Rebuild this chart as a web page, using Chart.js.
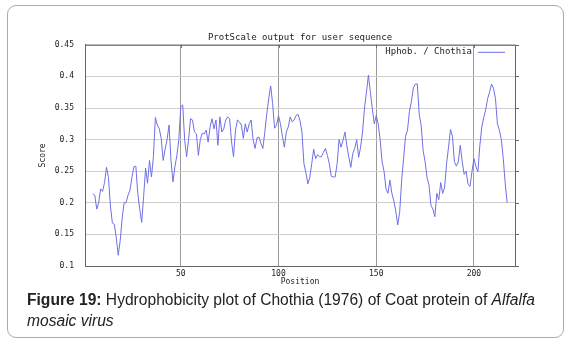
<!DOCTYPE html>
<html>
<head>
<title>ProtScale output for user sequence</title>
<script src="https://cdn.jsdelivr.net/npm/chart.js"></script>
<style>
  body { margin: 0; background: #fff; }
  #frame { position: absolute; left: 7px; top: 5px; width: 555px; height: 331px;
           border: 1px solid #aaa; border-radius: 9px; }
  #plot { position: absolute; left: 0; top: 0; }
  #caption { position: absolute; left: 27px; top: 289px; width: 535px;
             font-family: "Liberation Sans", Arial, sans-serif; font-size: 15.6px;
             line-height: 21px; color: #222; }
</style>
</head>
<body>
<div id="frame"></div>
<canvas id="plot" width="570" height="290"></canvas>
<div id="caption"><b>Figure 19:</b> Hydrophobicity plot of Chothia (1976) of Coat protein of <i>Alfalfa</i><br><i>mosaic virus</i></div>

<script>
// window scores, first window centred on residue 5
const startPos = 5;
const scores = [
  0.214, 0.212, 0.190, 0.200, 0.222, 0.218, 0.232, 0.256, 0.240, 0.195,
  0.168, 0.166, 0.145, 0.117, 0.140, 0.175, 0.200, 0.200, 0.212, 0.220,
  0.240, 0.257, 0.258, 0.215, 0.190, 0.169, 0.210, 0.255, 0.231, 0.267,
  0.241, 0.273, 0.335, 0.323, 0.317, 0.302, 0.267, 0.285, 0.300, 0.323,
  0.267, 0.233, 0.257, 0.275, 0.300, 0.352, 0.355, 0.299, 0.273, 0.300,
  0.333, 0.331, 0.312, 0.309, 0.275, 0.300, 0.310, 0.309, 0.315, 0.296,
  0.320, 0.333, 0.317, 0.331, 0.291, 0.336, 0.312, 0.317, 0.331, 0.336,
  0.333, 0.296, 0.273, 0.315, 0.331, 0.328, 0.323, 0.302, 0.325, 0.312,
  0.325, 0.331, 0.300, 0.286, 0.303, 0.304, 0.294, 0.286, 0.312, 0.341,
  0.365, 0.385, 0.357, 0.318, 0.323, 0.338, 0.325, 0.305, 0.288, 0.312,
  0.320, 0.336, 0.328, 0.331, 0.338, 0.340, 0.330, 0.312, 0.262, 0.248,
  0.230, 0.240, 0.262, 0.285, 0.270, 0.276, 0.273, 0.273, 0.280, 0.286,
  0.275, 0.262, 0.242, 0.241, 0.241, 0.262, 0.300, 0.288, 0.299, 0.312,
  0.290, 0.272, 0.256, 0.278, 0.286, 0.300, 0.272, 0.288, 0.312, 0.350,
  0.375, 0.402, 0.375, 0.349, 0.325, 0.338, 0.325, 0.300, 0.265, 0.250,
  0.222, 0.215, 0.236, 0.215, 0.203, 0.187, 0.165, 0.185, 0.235, 0.270,
  0.305, 0.315, 0.345, 0.360, 0.382, 0.388, 0.388, 0.340, 0.322, 0.283,
  0.265, 0.240, 0.228, 0.196, 0.190, 0.178, 0.215, 0.205, 0.232, 0.215,
  0.225, 0.262, 0.288, 0.316, 0.305, 0.265, 0.258, 0.265, 0.291, 0.265,
  0.245, 0.250, 0.229, 0.226, 0.250, 0.270, 0.257, 0.249, 0.290, 0.320,
  0.335, 0.347, 0.365, 0.375, 0.388, 0.381, 0.365, 0.325, 0.315, 0.300,
  0.270, 0.230, 0.200
];
const xTicks = [50, 100, 150, 200];
const yTicks = [0.1, 0.15, 0.2, 0.25, 0.3, 0.35, 0.4, 0.45];
const yTickLabels = ['0.1', '0.15', '0.2', '0.25', '0.3', '0.35', '0.4', '0.45'];
const seriesName = 'Hphob. / Chothia';

const mono = 'DejaVu Sans Mono';
const lineColor = '#6f6fe6';

// box round the plot, legend inside top right, little ticks on right and top
const frameBox = {
  id: 'frameBox',
  afterDraw(chart) {
    const {ctx, chartArea: a} = chart;
    const x = chart.scales.x, y = chart.scales.y;
    ctx.save();
    ctx.strokeStyle = '#666';
    ctx.lineWidth = 1;
    ctx.strokeRect(a.left + 0.5, a.top + 0.5, a.right - a.left, a.bottom - a.top);
    ctx.beginPath();
    yTicks.forEach(v => {
      const py = Math.round(y.getPixelForValue(v)) + 0.5;
      ctx.moveTo(a.right, py);
      ctx.lineTo(a.right + 4, py);
    });
    xTicks.forEach(v => {
      const px = Math.round(x.getPixelForValue(v)) + 0.5;
      ctx.moveTo(px, a.top);
      ctx.lineTo(px, a.top + 3);
    });
    ctx.stroke();
    ctx.font = '9px ' + mono;
    ctx.fillStyle = '#222';
    ctx.textBaseline = 'middle';
    ctx.textAlign = 'right';
    ctx.fillText(chart.data.datasets[0].label, a.right - 43, a.top + 7);
    ctx.strokeStyle = lineColor;
    ctx.beginPath();
    ctx.moveTo(a.right - 37, a.top + 7.5);
    ctx.lineTo(a.right - 10, a.top + 7.5);
    ctx.stroke();
    ctx.restore();
  }
};

new Chart(document.getElementById('plot'), {
  type: 'line',
  data: {
    datasets: [{
      label: seriesName,
      data: scores.map((s, i) => ({x: startPos + i, y: s})),
      borderColor: lineColor,
      borderWidth: 1,
      pointRadius: 0,
      tension: 0
    }]
  },
  options: {
    responsive: false,
    animation: false,
    layout: { padding: { left: 38, right: 55, top: 0, bottom: 0 } },
    plugins: {
      legend: { display: false },
      tooltip: { enabled: false },
      title: {
        display: true,
        text: 'ProtScale output for user sequence',
        fullSize: false,
        color: '#222',
        font: { family: mono, size: 9, weight: 'normal', lineHeight: 1.2 },
        padding: { top: 32, bottom: 2 }
      }
    },
    scales: {
      x: {
        type: 'linear',
        min: 1,
        max: 221,
        afterBuildTicks: s => { s.ticks = xTicks.map(v => ({value: v})); },
        afterFit: s => { s.height = 24; },
        ticks: { color: '#222', font: { family: mono, size: 8 }, padding: 3, maxRotation: 0, autoSkip: false },
        grid: { color: '#9a9a9a', drawTicks: false },
        border: { color: '#666' },
        title: { display: true, text: 'Position', color: '#222',
                 font: { family: mono, size: 8 }, padding: { top: 0, bottom: 3 } }
      },
      y: {
        min: 0.1,
        max: 0.45,
        afterBuildTicks: s => { s.ticks = yTicks.map(v => ({value: v})); },
        afterFit: s => { s.width = 47; },
        ticks: {
          color: '#222',
          font: { family: mono, size: 8 },
          padding: 11,
          callback: v => yTickLabels[yTicks.indexOf(v)]
        },
        grid: { color: '#cfcfcf', drawTicks: false },
        border: { color: '#666' },
        title: { display: true, text: 'Score', color: '#222',
                 font: { family: mono, size: 8 }, padding: 0 }
      }
    }
  },
  plugins: [frameBox]
});
</script>
</body>
</html>
